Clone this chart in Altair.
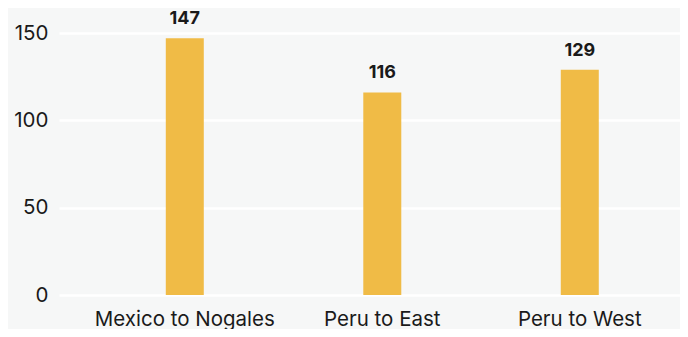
import altair as alt
import pandas as pd

routes = ["Mexico to Nogales", "Peru to East", "Peru to West"]
values = [147, 116, 129]
y_ticks = [0, 50, 100, 150]

df = pd.DataFrame({"route": routes, "value": values})

base = alt.Chart(df).encode(
    x=alt.X(
        "route:N",
        sort=routes,
        title=None,
        scale=alt.Scale(paddingInner=0.8076, paddingOuter=0.476, align=0.568),
        axis=alt.Axis(
            labelAngle=0,
            labelFont="Inter",
            labelFontSize=20.5,
            labelColor="#1a1a1a",
            labelPadding=14,
            labelLimit=400,
            labelOverlap=False,
            ticks=False,
            tickSize=0,
            domain=False,
            grid=False,
        ),
    ),
    y=alt.Y(
        "value:Q",
        title=None,
        scale=alt.Scale(domain=[0, 150], nice=False),
        axis=alt.Axis(
            values=y_ticks,
            labelFont="Inter",
            labelFontSize=20.5,
            labelColor="#1a1a1a",
            labelPadding=11,
            ticks=False,
            tickSize=0,
            domain=False,
            grid=True,
            gridColor="#ffffff",
            gridWidth=2.5,
        ),
    ),
)

bars = base.mark_bar(color="#f0bb46", size=38, clip=False)
labels = base.mark_text(
    font="Inter",
    fontSize=18,
    fontWeight="bold",
    color="#1a1a1a",
    baseline="alphabetic",
    dy=-14,
).encode(text=alt.Text("value:Q"))

chart = (
    alt.layer(bars, labels)
    .properties(
        width=621,
        height=262,
        background="#f6f7f7",
        padding={"left": 51, "top": 25, "right": 0, "bottom": 34},
        autosize=alt.AutoSizeParams(type="none"),
    )
    .configure_view(stroke=None, fill="#f6f7f7")
)

chart.save("out.html", embed_options={"renderer": "svg", "actions": False})
